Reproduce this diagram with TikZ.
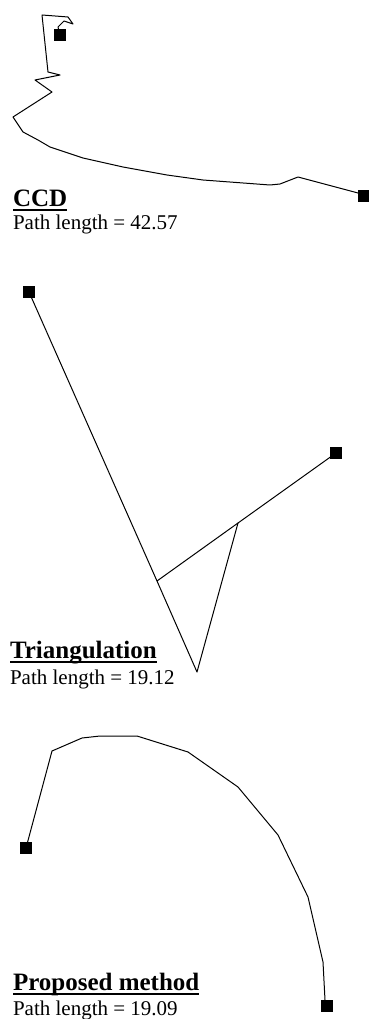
\documentclass[tikz,border=0pt]{standalone}
\usepackage{fontspec}
\setmainfont{Liberation Serif}
\begin{document}
\begin{tikzpicture}[x=1pt,y=-1pt,line width=1pt,line join=round,
  joint/.style={rectangle,fill=black,minimum size=12pt,inner sep=0pt,outer sep=0pt},
  head/.style={anchor=base west,inner sep=0pt,outer sep=0pt,font=\fontsize{25}{28}\selectfont\bfseries},
  body/.style={anchor=base west,inner sep=0pt,outer sep=0pt,font=\fontsize{21}{24}\selectfont},
  uline/.style={line width=2pt}]
\useasboundingbox (0,0) rectangle (369,1019);

% ---------------- CCD ----------------
\node[joint] (ccdB) at (364,196) {};
\node[joint] (ccdE) at (60,35) {};
\draw (ccdB.center) -- (358,193) -- (298,177) -- (280,184) -- (270,185) -- (203,180)
  -- (167,175) -- (123,167) -- (83,158) -- (50,147) -- (38,140) -- (23,132) -- (13,117)
  -- (52,92) -- (35,80) -- (60,75) -- (48,72) -- (42,15) -- (68,17) -- (73,24)
  -- (64,21) -- (58,27) -- (ccdE.center);
\node[head] (ccdT) at (13,206) {CCD};
\draw[uline] ([yshift=-3.5pt]ccdT.base west) -- ([yshift=-3.5pt]ccdT.base east);
\node[body] (ccdL) at (13,229) {Path length = 42.57};

% ---------------- Triangulation ----------------
\node[joint] (tA) at (29,292) {};
\node[joint] (tB) at (336,453) {};
\coordinate (t1) at (157,581);
\coordinate (t2) at (197,672);
\coordinate (t3) at (238,523);
\draw (tA.center) -- (t1) -- (t2) -- (t3) -- (tB.center);
\draw (t1) -- (t3);
\node[head] (triT) at (10,658) {Triangulation};
\draw[uline] ([yshift=-3.5pt]triT.base west) -- ([yshift=-3.5pt]triT.base east);
\node[body] (triL) at (10,684) {Path length = 19.12};

% ---------------- Proposed method ----------------
\node[joint] (pA) at (26,848) {};
\node[joint] (pB) at (327,1006) {};
\draw (pA.center) -- (52,751) -- (82,738) -- (100,736) -- (137,736) -- (188,752)
  -- (238,787) -- (278,835) -- (308,897) -- (323,962) -- (325,1000) -- (pB.center);
\node[head] (propT) at (13,990) {Proposed method};
\draw[uline] ([yshift=-3.5pt]propT.base west) -- ([yshift=-3.5pt]propT.base east);
\node[body] (propL) at (13,1015) {Path length = 19.09};
\end{tikzpicture}
\end{document}
